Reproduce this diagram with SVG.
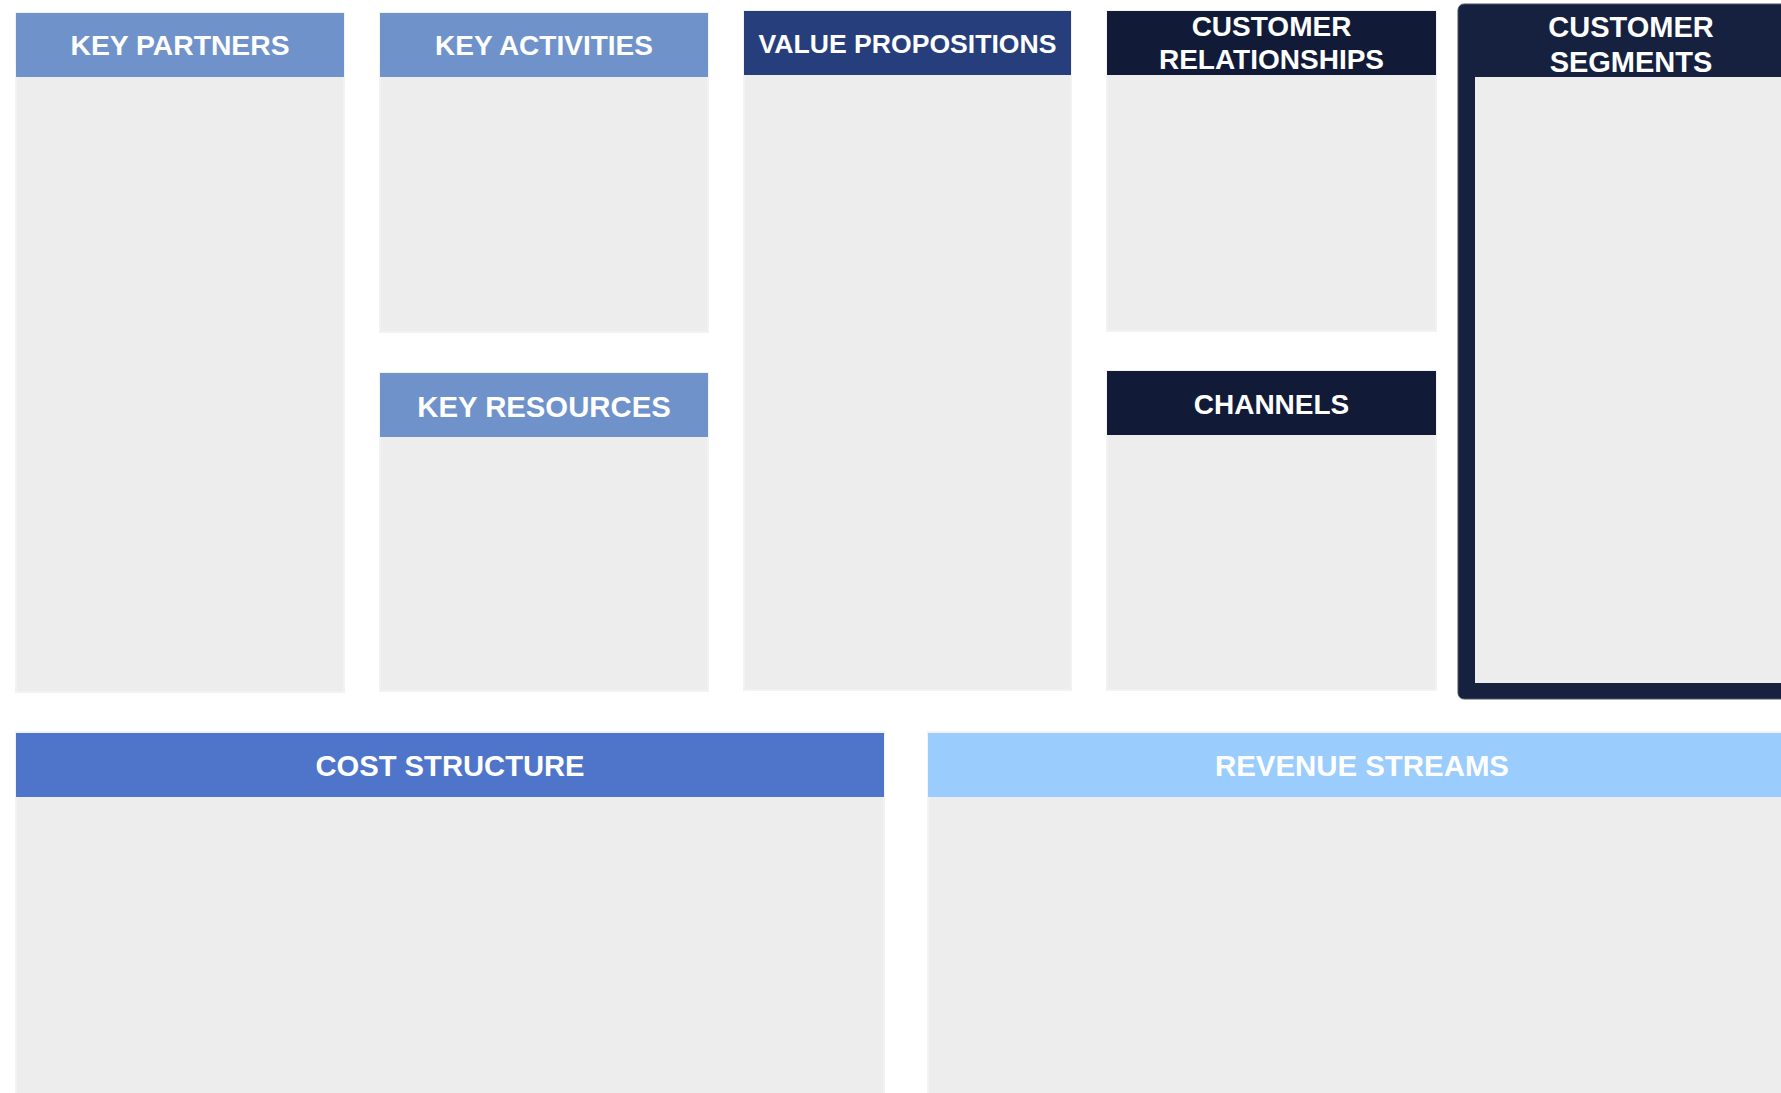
<svg xmlns="http://www.w3.org/2000/svg" width="1781" height="1093" viewBox="0 0 1781 1093">
<style>
.body{fill:#EDEDED;stroke:#F2F2F2;stroke-width:2}
.t{font-family:"Liberation Sans",Arial,sans-serif;font-weight:bold;fill:#FFFFFF;text-anchor:middle;font-size:28px}
.lb{fill:#6F92CB}
.nv{fill:#111B38}
</style>
<rect width="1781" height="1093" fill="#FFFFFF"/>
<g id="key-partners">
<rect class="body" x="16" y="13" width="328" height="679"/>
<rect class="lb" x="16" y="13" width="328" height="64"/>
<text class="t" x="180" y="55" style="font-size:28.3px">KEY PARTNERS</text>
</g>
<g id="key-activities">
<rect class="body" x="380" y="13" width="328" height="319"/>
<rect class="lb" x="380" y="13" width="328" height="64"/>
<text class="t" x="544" y="55">KEY ACTIVITIES</text>
</g>
<g id="key-resources">
<rect class="body" x="380" y="373" width="328" height="318"/>
<rect class="lb" x="380" y="373" width="328" height="64"/>
<text class="t" x="544" y="416.5" style="font-size:29.3px">KEY RESOURCES</text>
</g>
<g id="value-propositions">
<rect class="body" x="744" y="11" width="327" height="679"/>
<rect fill="#273E7D" x="744" y="11" width="327" height="64"/>
<text class="t" x="907.5" y="53" style="font-size:26.6px">VALUE PROPOSITIONS</text>
</g>
<g id="customer-relationships">
<rect class="body" x="1107" y="11" width="329" height="320"/>
<rect class="nv" x="1107" y="11" width="329" height="64"/>
<text class="t" x="1271.5" y="36">CUSTOMER</text>
<text class="t" x="1271.5" y="69">RELATIONSHIPS</text>
</g>
<g id="channels">
<rect class="body" x="1107" y="371" width="329" height="319"/>
<rect class="nv" x="1107" y="371" width="329" height="64"/>
<text class="t" x="1271.5" y="414">CHANNELS</text>
</g>
<g id="customer-segments">
<rect x="1458" y="4" width="360" height="695" rx="6" fill="#16213F" stroke="#4A5168" stroke-width="1"/>
<rect x="1475" y="77" width="330" height="606" fill="#EDEDED"/>
<text class="t" x="1631" y="37" style="font-size:29px">CUSTOMER</text>
<text class="t" x="1631" y="72" style="font-size:29px">SEGMENTS</text>
</g>
<g id="cost-structure">
<rect class="body" x="16" y="732" width="868" height="370"/>
<rect fill="#4E75C9" x="16" y="733" width="868" height="64"/>
<text class="t" x="450" y="775.5" style="font-size:29.2px">COST STRUCTURE</text>
</g>
<g id="revenue-streams">
<rect class="body" x="928" y="732" width="880" height="370"/>
<rect fill="#9ACDFE" x="928" y="733" width="880" height="64"/>
<text class="t" x="1362" y="775.5" style="font-size:29.4px">REVENUE STREAMS</text>
</g>
<g id="connectors"/>
</svg>
